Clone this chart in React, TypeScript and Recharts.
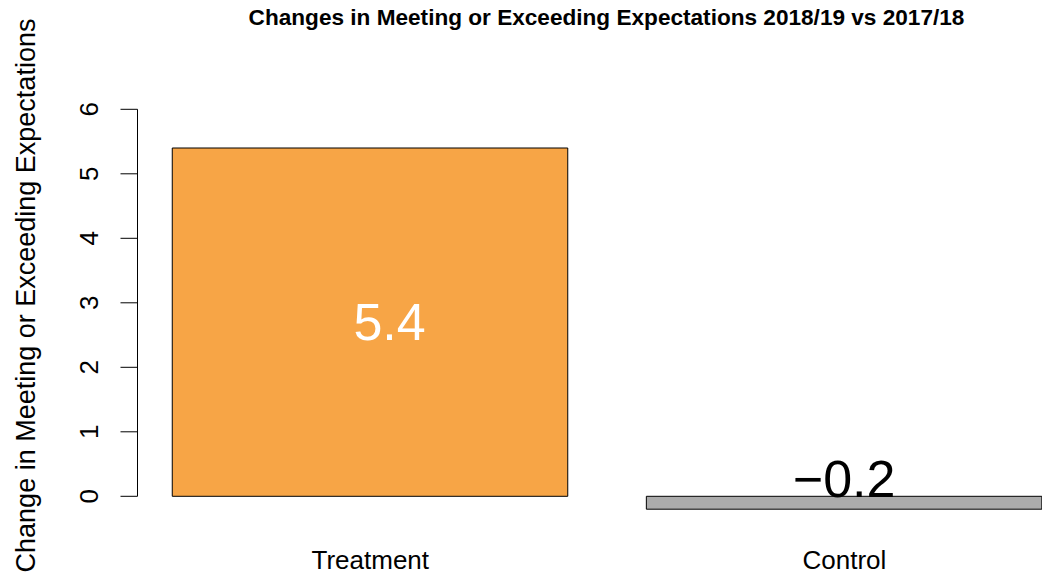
import { BarChart, Bar, XAxis, YAxis, Cell, LabelList } from "recharts";

const categories = ["Treatment", "Control"];
const changes = [5.4, -0.2];
const barColors = ["#F7A546", "#ABABAB"];
const yTicks = [0, 1, 2, 3, 4, 5, 6];

const chartTitle = "Changes in Meeting or Exceeding Expectations 2018/19 vs 2017/18";
const yLabel = "Change in Meeting or Exceeding Expectations";

const FONT = '"Liberation Sans", Arial, Helvetica, sans-serif';

const data = categories.map((name, i) => ({ name, change: changes[i] }));

// R style number formatting, with a real minus sign
const fmt = (v: number) => (v < 0 ? "\u2212" + Math.abs(v) : String(v));

function YTick(props: any) {
  const { x, y, payload } = props;
  const bx = x - 22;
  return (
    <text
      x={bx}
      y={y}
      transform={`rotate(-90, ${bx}, ${y})`}
      textAnchor="middle"
      fontSize={26}
      fontFamily={FONT}
      fill="#000"
    >
      {payload.value}
    </text>
  );
}

function XTick(props: any) {
  const { x, y, payload } = props;
  return (
    <text x={x} y={y} dy={59.3} textAnchor="middle" fontSize={26} fontFamily={FONT} fill="#000">
      {payload.value}
    </text>
  );
}

function BarValue(props: any) {
  const { x, y, width, height, value } = props;
  const top = Math.min(y, y + height);
  const bottom = Math.max(y, y + height);
  const cx = x + width / 2;
  const positive = value >= 0;
  // positive bars: white value inside the bar (sits a little right of centre, as in the source);
  // negative: black value just above the zero line
  const lx = positive ? cx + 19.6 : cx;
  const baseline = positive ? (top + bottom) / 2 + 18 : top + 1;
  return (
    <text
      x={lx}
      y={baseline}
      textAnchor="middle"
      fontSize={52}
      fontFamily={FONT}
      fill={positive ? "#fff" : "#000"}
    >
      {fmt(value)}
    </text>
  );
}

export default function App() {
  return (
    <div
      style={{
        position: "absolute",
        left: 0,
        top: 0,
        width: 1042,
        height: 578,
        overflow: "hidden",
        background: "#fff",
      }}
    >
      <BarChart
        width={1090}
        height={578}
        data={data}
        margin={{ top: 109.3, right: 8.55, bottom: 0, left: 0 }}
      >
        <XAxis
          dataKey="name"
          axisLine={false}
          tickLine={false}
          tickSize={0}
          tickMargin={0}
          height={68.8}
          interval={0}
          padding={{ left: -4.25, right: 0 }}
          tick={<XTick />}
        />
        <YAxis
          type="number"
          domain={[-0.2, 6]}
          ticks={yTicks}
          interval={0}
          width={137.5}
          tickSize={17}
          tickMargin={0}
          axisLine={{ stroke: "#000", strokeDasharray: "387 100" }}
          tickLine={{ stroke: "#000" }}
          tick={<YTick />}
        />
        <Bar
          dataKey="change"
          barSize={395.5}
          stroke="#000"
          strokeWidth={1}
          isAnimationActive={false}
        >
          {data.map((d, i) => (
            <Cell key={d.name} fill={barColors[i]} />
          ))}
          <LabelList dataKey="change" content={<BarValue />} />
        </Bar>
      </BarChart>
      <svg
        width={1042}
        height={578}
        style={{ position: "absolute", left: 0, top: 0, pointerEvents: "none" }}
      >
        <text
          x={606.5}
          y={25}
          textAnchor="middle"
          fontSize={22.6}
          fontWeight="bold"
          fontFamily={FONT}
          fill="#000"
        >
          {chartTitle}
        </text>
        <text
          x={-295.5}
          y={35}
          transform="rotate(-90)"
          textAnchor="middle"
          fontSize={27}
          fontFamily={FONT}
          fill="#000"
        >
          {yLabel}
        </text>
      </svg>
    </div>
  );
}
